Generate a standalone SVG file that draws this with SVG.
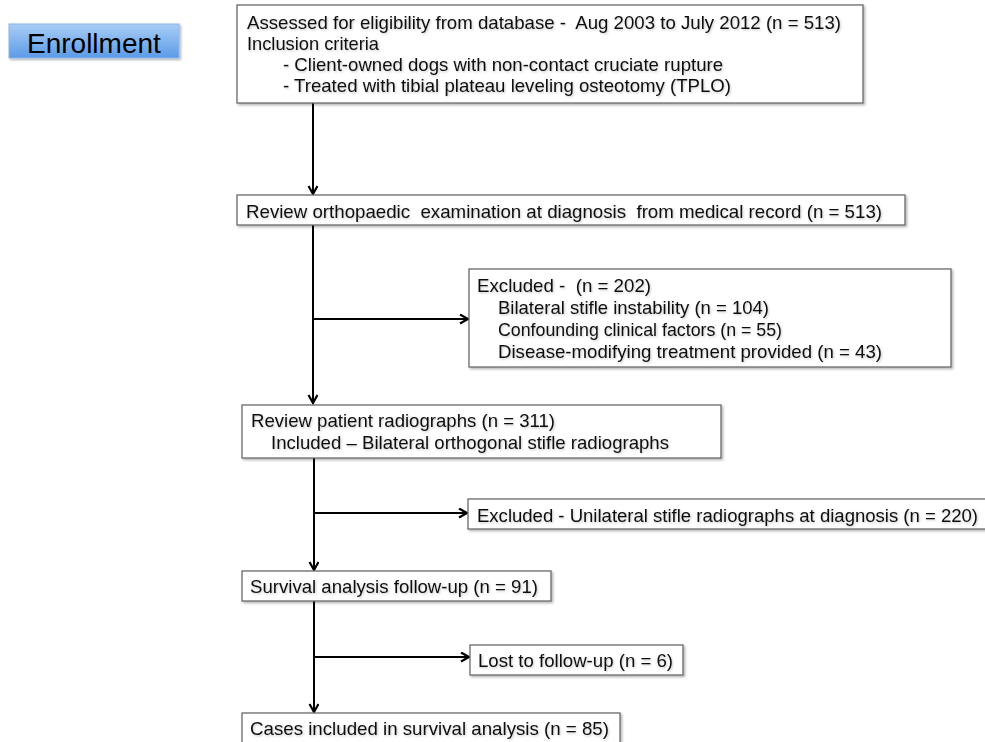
<svg xmlns="http://www.w3.org/2000/svg" width="985" height="742" viewBox="0 0 985 742">
  <style>
    .box { fill: #ffffff; stroke: #6a6a6a; stroke-width: 1.3; filter: url(#shadow); }
    .t { font-family: "Liberation Sans", Arial, Helvetica, sans-serif; font-size: 19px; fill: #111111; white-space: pre; filter: url(#tshadow); }
    .conn { stroke: #000000; stroke-width: 2; fill: none; marker-end: url(#arrow); }
  </style>
  <defs>
    <linearGradient id="blue" x1="0" y1="0" x2="0" y2="1">
      <stop offset="0" stop-color="#a9cdf6"/>
      <stop offset="1" stop-color="#5b9be6"/>
    </linearGradient>
    <filter id="shadow" x="-5%" y="-10%" width="110%" height="130%">
      <feDropShadow dx="1.5" dy="1.5" stdDeviation="1.2" flood-color="#000000" flood-opacity="0.3"/>
    </filter>
    <filter id="tshadow" x="-2%" y="-20%" width="104%" height="150%">
      <feDropShadow dx="1" dy="1.2" stdDeviation="0.8" flood-color="#000000" flood-opacity="0.22"/>
    </filter>
    <marker id="arrow" markerUnits="userSpaceOnUse" markerWidth="12" markerHeight="12" refX="9" refY="5" orient="auto">
      <path d="M1,0.5 L9,5 L1,9.5" fill="none" stroke="#000000" stroke-width="2.2"/>
    </marker>
  </defs>

  <g id="enrollment">
    <rect x="9" y="24" width="170" height="34" fill="url(#blue)" stroke="#8ab6ea" stroke-width="1" filter="url(#shadow)"/>
    <text x="27" y="53" font-family="Liberation Sans, Arial, sans-serif" font-size="28" fill="#000000">Enrollment</text>
  </g>

  <g id="connectors">
    <line class="conn" x1="313" y1="103" x2="313" y2="194"/>
    <line class="conn" x1="313" y1="225" x2="313" y2="403"/>
    <line class="conn" x1="313" y1="319" x2="468" y2="319"/>
    <line class="conn" x1="314" y1="458" x2="314" y2="570"/>
    <line class="conn" x1="314" y1="513" x2="467" y2="513"/>
    <line class="conn" x1="314" y1="601" x2="314" y2="712"/>
    <line class="conn" x1="314" y1="657" x2="469" y2="657"/>
  </g>

  <g id="assessed">
    <rect class="box" x="237" y="5" width="626" height="98"/>
    <text class="t" x="247" y="29" textLength="594" lengthAdjust="spacingAndGlyphs">Assessed for eligibility from database -  Aug 2003 to July 2012 (n = 513)</text>
    <text class="t" x="247" y="50" textLength="132" lengthAdjust="spacingAndGlyphs">Inclusion criteria</text>
    <text class="t" x="283" y="71" textLength="440" lengthAdjust="spacingAndGlyphs">- Client-owned dogs with non-contact cruciate rupture</text>
    <text class="t" x="283" y="92" textLength="448" lengthAdjust="spacingAndGlyphs">- Treated with tibial plateau leveling osteotomy (TPLO)</text>
  </g>

  <g id="review-exam">
    <rect class="box" x="237" y="195" width="668" height="30"/>
    <text class="t" x="246" y="218" textLength="636" lengthAdjust="spacingAndGlyphs">Review orthopaedic  examination at diagnosis  from medical record (n = 513)</text>
  </g>

  <g id="excluded-202">
    <rect class="box" x="469" y="269" width="482" height="98"/>
    <text class="t" x="477" y="292" textLength="174" lengthAdjust="spacingAndGlyphs">Excluded -  (n = 202)</text>
    <text class="t" x="498" y="314" textLength="271" lengthAdjust="spacingAndGlyphs">Bilateral stifle instability (n = 104)</text>
    <text class="t" x="498" y="336" textLength="284" lengthAdjust="spacingAndGlyphs">Confounding clinical factors (n = 55)</text>
    <text class="t" x="498" y="358" textLength="384" lengthAdjust="spacingAndGlyphs">Disease-modifying treatment provided (n = 43)</text>
  </g>

  <g id="review-radiographs">
    <rect class="box" x="242" y="405" width="479" height="53"/>
    <text class="t" x="251" y="427" textLength="304" lengthAdjust="spacingAndGlyphs">Review patient radiographs (n = 311)</text>
    <text class="t" x="271" y="449" textLength="398" lengthAdjust="spacingAndGlyphs">Included – Bilateral orthogonal stifle radiographs</text>
  </g>

  <g id="excluded-220">
    <rect class="box" x="468" y="499" width="525" height="30"/>
    <text class="t" x="477" y="522" font-size="18.3" style="font-size:18.3px" textLength="501" lengthAdjust="spacingAndGlyphs">Excluded - Unilateral stifle radiographs at diagnosis (n = 220)</text>
  </g>

  <g id="survival-followup">
    <rect class="box" x="242" y="571" width="309" height="30"/>
    <text class="t" x="250" y="593" textLength="288" lengthAdjust="spacingAndGlyphs">Survival analysis follow-up (n = 91)</text>
  </g>

  <g id="lost">
    <rect class="box" x="470" y="645" width="213" height="30"/>
    <text class="t" x="478" y="667" textLength="195" lengthAdjust="spacingAndGlyphs">Lost to follow-up (n = 6)</text>
  </g>

  <g id="cases-included">
    <rect class="box" x="242" y="713" width="378" height="40"/>
    <text class="t" x="250" y="735" textLength="359" lengthAdjust="spacingAndGlyphs">Cases included in survival analysis (n = 85)</text>
  </g>
</svg>
